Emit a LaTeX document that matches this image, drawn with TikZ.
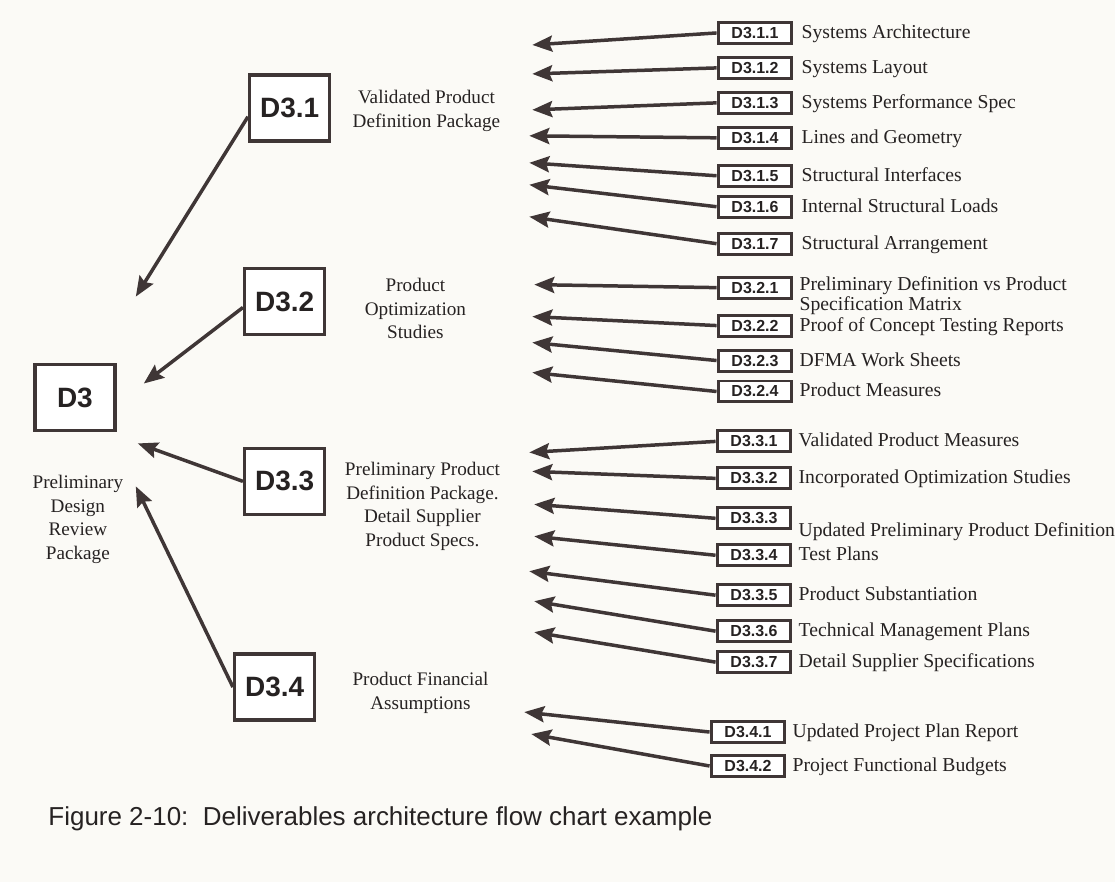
\documentclass[tikz,border=0pt]{standalone}
\usepackage{fontspec}
\setmainfont{Liberation Serif}
\setsansfont{Liberation Sans}
\usetikzlibrary{positioning,arrows.meta}
\definecolor{paper}{HTML}{FBFAF6}
\definecolor{ink}{HTML}{3F3636}
\definecolor{txt}{HTML}{262222}
\begin{document}
\begin{tikzpicture}[x=1pt, y=-1pt,
  main node/.style={rectangle, draw=ink, line width=3.5pt, fill=white, minimum width=80pt, minimum height=66pt, inner sep=0pt, text=txt, font=\sffamily\bfseries\fontsize{28}{30}\selectfont},
  sub node/.style={rectangle, draw=ink, line width=3pt, fill=white, minimum width=74pt, minimum height=21pt, inner sep=0pt, text=txt, font=\sffamily\bfseries\fontsize{16}{17}\selectfont},
  group text/.style={align=center, text=txt, font=\fontsize{19.2}{23.5}\selectfont},
  item/.style={anchor=base west, inner sep=1pt, text=txt, font=\fontsize{19.7}{20}\selectfont},
  feed/.style={draw=ink, line width=3.5pt, -{Stealth[length=20pt, width=16pt, inset=3pt]}}]
\fill[paper] (0,0) rectangle (1116,883);
% top level
\node[main node] (d3) at (75,398) {D3};
\node[group text] (d3t) at (78,520) {Preliminary\\Design\\Review\\Package};
\node[main node] (m31) at (290,108) {D3.1};
\node[main node] (m32) at (285,302) {D3.2};
\node[main node] (m33) at (285,482) {D3.3};
\node[main node] (m34) at (275,688) {D3.4};
\node[group text] (m31t) at (427,111) {Validated Product\\Definition Package};
\node[group text] (m32t) at (416,309) {Product\\Optimization\\Studies};
\node[group text] (m33t) at (423,507) {Preliminary Product\\Definition Package.\\Detail Supplier\\Product Specs.};
\node[group text] (m34t) at (421,694) {Product Financial\\Assumptions};
\coordinate (h31) at (136,297);
\coordinate (h32) at (144,384);
\coordinate (h33) at (138,444);
\coordinate (h34) at (136,487);
% D3.1 items
\node[sub node] (s311) at (756,33) {D3.1.1};
\node[sub node] (s312) at (756,68) {D3.1.2};
\node[sub node] (s313) at (756,103) {D3.1.3};
\node[sub node] (s314) at (756,138) {D3.1.4};
\node[sub node] (s315) at (756,176) {D3.1.5};
\node[sub node] (s316) at (756,207) {D3.1.6};
\node[sub node] (s317) at (756,244) {D3.1.7};
\node[right=7pt of s311.base east, item] (t311) {Systems Architecture};
\node[right=7pt of s312.base east, item] (t312) {Systems Layout};
\node[right=7pt of s313.base east, item] (t313) {Systems Performance Spec};
\node[right=7pt of s314.base east, item] (t314) {Lines and Geometry};
\node[right=7pt of s315.base east, item] (t315) {Structural Interfaces};
\node[right=7pt of s316.base east, item] (t316) {Internal Structural Loads};
\node[right=7pt of s317.base east, item] (t317) {Structural Arrangement};
\coordinate (e311) at (533,45);
\coordinate (e312) at (533,74);
\coordinate (e313) at (533,110);
\coordinate (e314) at (530,136);
\coordinate (e315) at (530,163);
\coordinate (e316) at (530,185);
\coordinate (e317) at (530,217);
% D3.2 items
\node[sub node] (s321) at (756,288) {D3.2.1};
\node[sub node] (s322) at (756,326) {D3.2.2};
\node[sub node] (s323) at (756,361) {D3.2.3};
\node[sub node] (s324) at (756,392) {D3.2.4};
\node[right=5pt of s321.base east, item, align=left, yshift=-17pt] (t321) {Preliminary Definition vs Product\\Specification Matrix};
\node[right=5pt of s322.base east, item] (t322) {Proof of Concept Testing Reports};
\node[right=5pt of s323.base east, item] (t323) {DFMA Work Sheets};
\node[right=5pt of s324.base east, item] (t324) {Product Measures};
\coordinate (e321) at (535,285);
\coordinate (e322) at (533,317);
\coordinate (e323) at (533,343);
\coordinate (e324) at (533,373);
% D3.3 items
\node[sub node] (s331) at (755,442) {D3.3.1};
\node[sub node] (s332) at (755,479) {D3.3.2};
\node[sub node] (s333) at (755,519) {D3.3.3};
\node[sub node] (s334) at (755,556) {D3.3.4};
\node[sub node] (s335) at (755,596) {D3.3.5};
\node[sub node] (s336) at (755,632) {D3.3.6};
\node[sub node] (s337) at (755,663) {D3.3.7};
\node[right=5pt of s331.base east, item] (t331) {Validated Product Measures};
\node[right=5pt of s332.base east, item] (t332) {Incorporated Optimization Studies};
\node[right=5pt of s333.base east, item, yshift=-13pt] (t333) {Updated Preliminary Product Definition};
\node[right=5pt of s334.base east, item] (t334) {Test Plans};
\node[right=5pt of s335.base east, item] (t335) {Product Substantiation};
\node[right=5pt of s336.base east, item] (t336) {Technical Management Plans};
\node[right=5pt of s337.base east, item] (t337) {Detail Supplier Specifications};
\coordinate (e331) at (530,453);
\coordinate (e332) at (533,472);
\coordinate (e333) at (535,505);
\coordinate (e334) at (535,537);
\coordinate (e335) at (530,572);
\coordinate (e336) at (535,602);
\coordinate (e337) at (535,633);
% D3.4 items
\node[sub node] (s341) at (749,733) {D3.4.1};
\node[sub node] (s342) at (749,767) {D3.4.2};
\node[right=5pt of s341.base east, item] (t341) {Updated Project Plan Report};
\node[right=5pt of s342.base east, item] (t342) {Project Functional Budgets};
\coordinate (e341) at (525,713);
\coordinate (e342) at (532,735);
\node[anchor=base west, text=txt, font=\sffamily\fontsize{26}{28}\selectfont] (cap) at (45,827) {Figure 2-10:\ \ Deliverables architecture flow chart example};
\begin{scope}[every edge/.style=feed]
\draw (m31.192) edge (h31);
\draw (m32.188) edge (h32);
\draw (m33.west) edge (h33);
\draw (m34.west) edge (h34);
\draw (s311.west) edge (e311);
\draw (s312.west) edge (e312);
\draw (s313.west) edge (e313);
\draw (s314.west) edge (e314);
\draw (s315.west) edge (e315);
\draw (s316.west) edge (e316);
\draw (s317.west) edge (e317);
\draw (s321.west) edge (e321);
\draw (s322.west) edge (e322);
\draw (s323.west) edge (e323);
\draw (s324.west) edge (e324);
\draw (s331.west) edge (e331);
\draw (s332.west) edge (e332);
\draw (s333.west) edge (e333);
\draw (s334.west) edge (e334);
\draw (s335.west) edge (e335);
\draw (s336.west) edge (e336);
\draw (s337.west) edge (e337);
\draw (s341.west) edge (e341);
\draw (s342.west) edge (e342);
\end{scope}
\end{tikzpicture}
\end{document}
